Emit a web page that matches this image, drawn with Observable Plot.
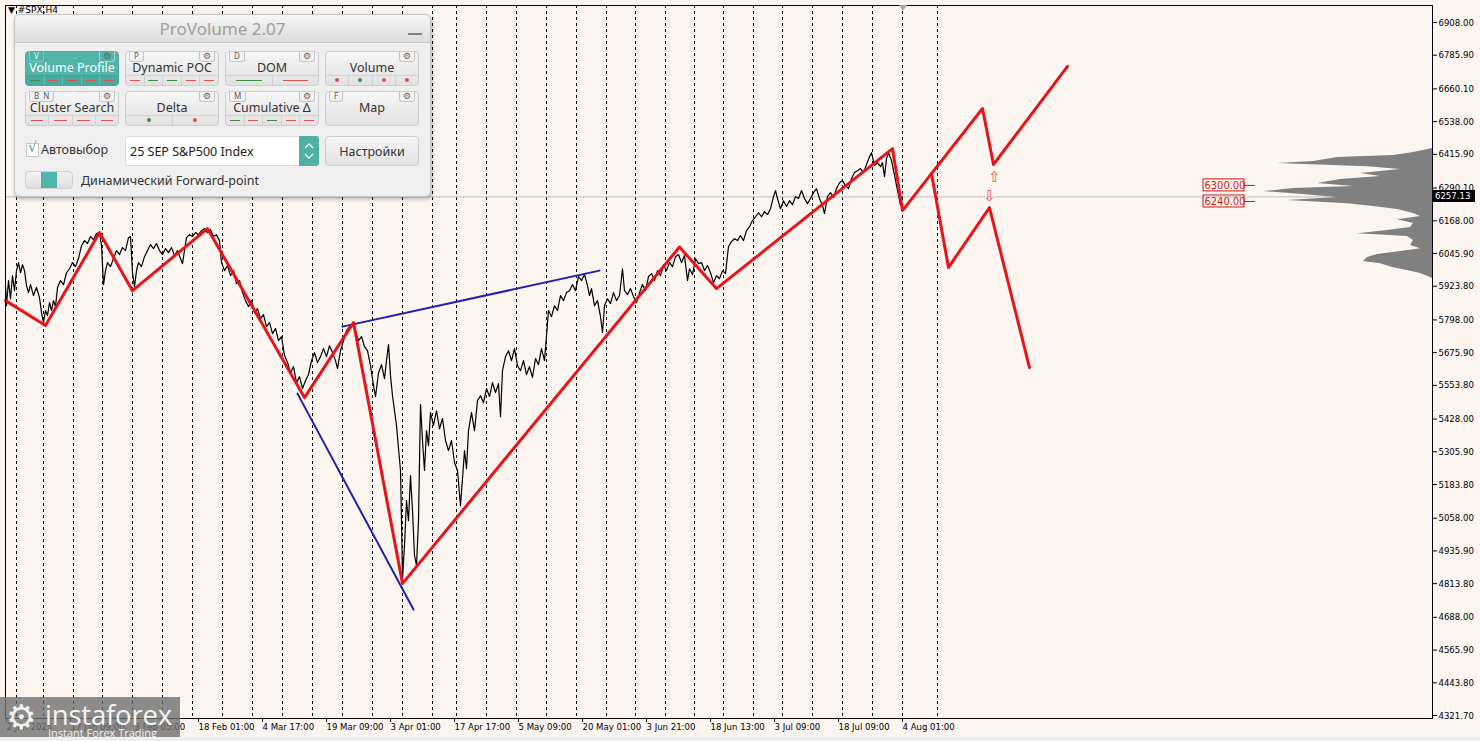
<!DOCTYPE html>
<html><head><meta charset="utf-8">
<script src="https://cdn.jsdelivr.net/npm/d3@7"></script>
<script src="https://cdn.jsdelivr.net/npm/@observablehq/plot@0.6"></script>
<style>
body{margin:0;background:#fdf5ef;}
#wrap{position:relative;width:1480px;height:741px;overflow:hidden;background:#fdf5ef;}
#wrap svg{position:absolute;left:0;top:0;}
.sym{position:absolute;left:8px;top:5px;font:9px "DejaVu Sans";color:#000;}
.pv{position:absolute;left:14px;top:14px;width:417px;height:183px;background:#efefef;border:1px solid #c4c4c4;border-radius:6px;box-shadow:1px 2px 4px rgba(0,0,0,0.3);font-family:"Noto Sans",sans-serif;overflow:hidden;box-sizing:border-box;}
.pv .hd{position:absolute;left:0;top:0;width:100%;height:27px;background:linear-gradient(#f7f7f7,#dcdcdc);border-bottom:1px solid #c6c6c6;text-align:center;font-size:17px;line-height:27px;color:#a0a0a0;}
.pv .min{position:absolute;right:8px;top:18px;width:14px;height:2px;background:#808080;}
.btn{position:absolute;width:94px;height:35px;border:1px solid #cdcdcd;border-radius:4px;background:linear-gradient(#f6f6f6,#e1e1e1);box-sizing:border-box;}
.btn .lb{position:absolute;left:0;right:0;top:7px;text-align:center;font-size:12.5px;color:#333;white-space:nowrap;}
.btn.on{background:#52b3a9;border-color:#4aa89e;}
.btn.on .lb{color:#fff;}
.strip{position:absolute;left:0;right:0;bottom:0;height:9px;border-top:1px solid #d2d2d2;display:flex;}
.btn.on .strip{border-top-color:#47a197;background:#4aa99f;}
.strip span{flex:1;border-left:1px solid #d0d0d0;position:relative;}
.btn.on .strip span{border-left-color:#63bdb3;}
.strip span:first-child{border-left:none;}
.strip i{position:absolute;left:22%;right:22%;top:4px;height:1px;}
.strip b{position:absolute;left:calc(50% - 2px);top:2px;width:4px;height:4px;border-radius:50%;}
.key{position:absolute;left:3px;top:-1px;font-size:8px;color:#555;border:1px solid #c6c6c6;border-top:none;border-radius:0 0 3px 3px;padding:0 4px;height:10px;line-height:10px;}
.btn.on .key{color:#e8f6f4;border-color:#79c7bf;}
.gear{position:absolute;right:3px;top:-1px;font-size:9px;color:#666;border:1px solid #c6c6c6;border-top:none;border-radius:0 0 3px 3px;padding:0 3px;height:10px;line-height:10px;font-family:"DejaVu Sans";}
.txt{position:absolute;font-size:12.5px;color:#333;white-space:nowrap;}
.chk{position:absolute;left:11px;top:128px;width:13px;height:14px;background:#fff;border:1px solid #c8c8c8;box-sizing:border-box;}
.chk span{position:absolute;left:1px;top:-5px;font-size:14px;color:#3aa89c;font-family:"DejaVu Sans";}
.dd{position:absolute;left:110px;top:121px;width:194px;height:30px;background:#fff;border:1px solid #dcdcdc;border-radius:3px;box-sizing:border-box;}
.dd .t{position:absolute;left:4px;top:6px;font-size:12.5px;color:#222;white-space:nowrap;}
.dd .sp{position:absolute;right:-1px;top:-1px;width:20px;height:30px;background:#4fb0a6;border-radius:0 3px 3px 0;}
.tog{position:absolute;left:10px;top:156px;width:48px;height:18px;background:linear-gradient(#f3f3f3,#dedede);border:1px solid #d0d0d0;border-radius:4px;box-sizing:border-box;}
.tog span{position:absolute;left:15px;top:0;width:16px;height:16px;background:#52b3a9;}
.logo{position:absolute;left:0;top:697px;width:180px;height:44px;background:rgba(112,112,112,0.8);}
.logo .g{position:absolute;left:6px;top:3px;font-size:34px;line-height:34px;color:#f2f2f2;font-family:"DejaVu Sans";}
.logo .n{position:absolute;left:45px;top:4px;font-size:27.5px;line-height:27px;color:#f4f4f4;font-family:"Open Sans";letter-spacing:-0.2px;}
.logo .s{position:absolute;left:48px;top:30px;font-size:11px;line-height:11px;color:#f0f0f0;font-family:"Open Sans";}
.cur{position:absolute;left:1433px;width:42px;height:12px;background:#000;color:#fff;font:9.5px "DejaVu Sans Condensed","DejaVu Sans";line-height:12px;text-align:left;padding-left:2px;box-sizing:border-box;}
.shift{position:absolute;left:899px;top:5px;width:0;height:0;border-left:4px solid transparent;border-right:4px solid transparent;border-top:6px solid #a8a8a8;}
.bot{position:absolute;left:0;top:737px;width:1480px;height:4px;background:#efefef;}
</style></head><body><div id="wrap"></div>
<script>
// ---- price data (H4 closes, bar index = 1 px per bar) ----
const barsJanFeb = [0,1,3,5,7,9,11,13,15,17,19,21,23,25,28,31,34,36,38,40,42,44,46,48,50,52,55,58,61,64,67,70,73,76,79,82,85,88,91,94,96,98,100,102,105,108,111,114,117,120,123,125,127,129,131,133,136,139,142,145,148,151,154,157,160,163,166,169,172,175,177,179,181,184,187,190,193,196,199,202,205,208,211,214,216,219,222,225,228,231,234,237,240,243,246];
const closeJanFeb = [5926,5851,5945,5877,5963,5907,5982,6012,5974,6004,5982,5926,5900,5930,5889,5919,5881,5825,5788,5833,5814,5863,5833,5870,5848,5919,5945,5930,5974,5989,6012,5997,6027,6075,6094,6083,6109,6098,6120,6124,6075,5930,5982,6012,5997,6027,6057,6042,6068,6057,6105,6109,5974,5922,5982,6012,5997,6034,6057,6079,6064,6083,6057,6042,6064,6049,6068,6038,6057,6027,6008,6057,6105,6116,6109,6124,6116,6131,6139,6124,6135,6109,6116,6094,6012,5982,6001,5963,5982,5933,5945,5900,5870,5848,5870];
const barsMarApr = [249,252,255,258,261,264,267,270,273,276,279,282,285,288,291,294,297,300,303,306,309,312,315,318,321,324,327,330,332,335,338,341,344,347,350,353,356,359,362,365,368,370,373,376,379,381,383,385,387,389,391,393,395,396,397,399,401,403,405,407,409,411,413,415,417,419,421,423,425,428,431,434,437,440,443,446,449,452,455,457,459,461,463,466,469,472,475];
const closeMarApr = [5825,5840,5803,5818,5773,5788,5747,5766,5721,5736,5665,5639,5601,5624,5564,5586,5542,5571,5594,5646,5676,5639,5661,5691,5661,5702,5676,5646,5616,5683,5721,5758,5773,5784,5758,5721,5736,5698,5683,5627,5553,5512,5601,5631,5579,5646,5706,5590,5515,5459,5404,5318,5236,5049,4832,4956,5124,5049,5217,5087,4919,4881,5049,5482,5348,5236,5385,5329,5452,5404,5459,5392,5430,5348,5310,5348,5266,5236,5105,5206,5310,5243,5385,5452,5385,5497,5515];
const barsAprJun = [478,481,484,487,490,493,495,497,500,503,506,509,512,515,518,521,524,527,530,533,536,539,541,543,546,549,552,555,558,561,564,567,570,573,576,579,582,584,586,589,592,595,597,599,602,605,608,611,614,617,619,622,625,628,631,634,637,640,643,646,649,652,655,658,661,664,667,670,673,676,679,682,684,687,690,693];
const closeAprJun = [5489,5542,5512,5564,5527,5560,5437,5609,5661,5683,5646,5691,5627,5609,5646,5594,5624,5583,5654,5631,5691,5646,5739,5833,5810,5851,5833,5889,5870,5900,5907,5930,5907,5960,5945,5967,5926,5889,5915,5851,5870,5810,5751,5851,5877,5859,5900,5870,5889,5989,5907,5892,5915,5885,5863,5900,5930,5907,5960,5971,5945,5982,5963,6004,5982,6012,5997,6034,6042,6012,6038,5945,5989,5967,6027,6008];
const barsJunAug = [696,699,702,705,708,711,714,717,720,723,726,729,732,735,738,741,744,747,750,753,756,759,762,765,768,770,772,775,778,781,784,787,790,793,796,799,802,805,808,811,814,817,819,822,825,828,831,834,837,840,843,846,849,852,855,858,861,864,866,869,872,875,877,879,881,883,886,889,892,895,897];
const closeJunAug = [6012,5982,6001,5974,5937,5963,5952,5982,5971,6072,6090,6101,6094,6113,6094,6131,6146,6169,6183,6198,6183,6202,6191,6213,6258,6281,6251,6213,6243,6221,6243,6228,6258,6251,6281,6251,6232,6251,6273,6288,6251,6225,6195,6258,6273,6255,6288,6310,6318,6299,6288,6325,6348,6355,6363,6348,6378,6407,6422,6374,6385,6370,6385,6333,6400,6422,6393,6337,6281,6225,6257];
const lastClose = 6257.13;

// ---- zigzag (red) & forecast branches ----
const zigBars   = [0,40,94,127,202,299,348,397,674,711,887,897,926,977,988,1062];
const zigPrices = [5870,5777,6124,5907,6139,5508,5788,4814,6070,5915,6437,6206,6344,6587,6378,6744];
const altBars   = [926,943,984,1024];
const altPrices = [6344,5994,6217,5620];
// ---- blue trend lines ----
const upperBars = [337,594], upperPrices = [5773,5982];
const lowerBars = [292,408], lowerPrices = [5523,4717];
// ---- level marks & arrows ----
const levels = [6300.00, 6240.00];
const arrowBars = [989,984], arrowPrices = [6330,6259], arrowGlyphs = ["⇧","⇩"];

// ---- volume profile (price level, relative volume) ----
const vpPrices = [6438,6423,6412,6404,6389,6382,6370,6359,6344,6333,6322,6307,6296,6288,6277,6270,6255,6244,6232,6221,6210,6195,6184,6172,6158,6143,6132,6120,6109,6094,6076,6064,6050,6042,6031,6016,6008,5993,5982,5971,5956,5952];
const vpVolume = [0,19,39,95,119,155,65,32,72,52,92,115,79,139,169,142,95,145,85,59,35,19,12,35,19,22,45,75,25,19,22,12,39,55,65,69,52,39,25,12,2,0];

// ---- axes ----
const weekStarts = [11,38,68,97,127,157,187,217,247,277,307,337,367,397,427,451,481,511,541,571,601,630,660,689,718,748,777,807,837,867,897,932];
const xTickBars = [0,64,128,192,256,320,384,448,512,576,640,704,768,832,896];
const xTickLabels = ["2 Jan 2025","17 Jan 09:00","3 Feb 05:00","18 Feb 01:00","4 Mar 17:00","19 Mar 09:00","3 Apr 01:00","17 Apr 17:00","5 May 09:00","20 May 01:00","3 Jun 21:00","18 Jun 13:00","3 Jul 09:00","18 Jul 09:00","4 Aug 01:00"];
const yTicks = [6908.00,6785.90,6660.10,6538.00,6415.90,6290.10,6168.00,6045.90,5923.80,5798.00,5675.90,5553.80,5428.00,5305.90,5183.80,5058.00,4935.90,4813.80,4688.00,4565.90,4443.80,4321.70];

const toRows = (b, p) => b.map((x, i) => ({bar: x, price: p[i]}));
const price = [
  ...toRows(barsJanFeb, closeJanFeb), ...toRows(barsMarApr, closeMarApr),
  ...toRows(barsAprJun, closeAprJun), ...toRows(barsJunAug, closeJunAug)
];
const zig = toRows(zigBars, zigPrices);
const alt = toRows(altBars, altPrices);
const trends = [...toRows(upperBars, upperPrices).map(d => ({...d, k: "u"})), ...toRows(lowerBars, lowerPrices).map(d => ({...d, k: "l"}))];
const arrows = arrowBars.map((b, i) => ({bar: b, price: arrowPrices[i], g: arrowGlyphs[i]}));
const profile = vpPrices.map((p, i) => ({price: p, vol: vpVolume[i]}));
const labelOf = new Map(xTickBars.map((b, i) => [b, xTickLabels[i]]));

const X_END = 1427;          // last bar slot at the price scale
const BOX_L = 1198, BOX_R = 1239, BOX_H = 22.4;
const RED = "#e8141a", BLUE = "#2121ad";

const chart = Plot.plot({
  width: 1480, height: 741,
  marginLeft: 5, marginRight: 48, marginTop: 5, marginBottom: 23,
  x: {type: "linear", domain: [0, X_END], axis: null},
  y: {type: "linear", domain: [4310.5, 6971.4], axis: null},
  style: {background: "#fdf5ef", fontFamily: "'DejaVu Sans Condensed','DejaVu Sans'", fontSize: "9.5px", color: "#000", overflow: "visible"},
  marks: [
    Plot.ruleX(weekStarts, {stroke: "#000", strokeWidth: 1, strokeDasharray: "3,3"}),
    Plot.ruleY([lastClose], {stroke: "#bdbdbd", strokeWidth: 1}),
    Plot.areaX(profile, {y: "price", x1: X_END, x2: d => X_END - d.vol, fill: "#808080"}),
    Plot.line(price, {x: "bar", y: "price", stroke: "#000", strokeWidth: 1.2}),
    Plot.line(trends, {x: "bar", y: "price", z: "k", stroke: BLUE, strokeWidth: 2}),
    Plot.line(zig, {x: "bar", y: "price", stroke: RED, strokeWidth: 3}),
    Plot.line(alt, {x: "bar", y: "price", stroke: RED, strokeWidth: 3}),
    Plot.text(arrows, {x: "bar", y: "price", text: "g", fill: "#e25a5a", fontSize: 15, fontFamily: "DejaVu Sans"}),
    Plot.rect(levels, {x1: BOX_L, x2: BOX_R, y1: d => d - BOX_H, y2: d => d + BOX_H, fill: "none", stroke: "#d01818", strokeWidth: 1}),
    Plot.ruleY(levels, {x1: BOX_R, x2: BOX_R + 11, stroke: "#d01818", strokeWidth: 1}),
    Plot.text(levels, {x: BOX_L + 1, y: d => d, text: d => d.toFixed(2), textAnchor: "start", fill: "#d01818", fontSize: 11, fontFamily: "'DejaVu Sans Condensed','DejaVu Sans'"}),
    Plot.frame({stroke: "#000", strokeWidth: 1}),
    Plot.axisY({anchor: "right", ticks: yTicks, tickFormat: d => d.toFixed(2), tickSize: 4, tickPadding: 2, label: null}),
    Plot.axisX({anchor: "bottom", ticks: xTickBars, tickFormat: d => labelOf.get(d), tickSize: 4, tickPadding: 1, textAnchor: "start", dx: 1, label: null})
  ]
});

const wrap = document.getElementById("wrap");
wrap.appendChild(chart);

const yS = chart.scale("y");
const cur = document.createElement("div");
cur.className = "cur";
cur.style.top = (yS.apply(lastClose) - 6) + "px";
cur.textContent = lastClose.toFixed(2);
wrap.appendChild(cur);

const strip = (items) => `<div class="strip">${items.map(it => {
  if (!it) return "<span></span>";
  const [t, c] = it;
  return t === "d" ? `<span><i style="background:${c}"></i></span>` : `<span><b style="background:${c}"></b></span>`;
}).join("")}</div>`;
const R = "#d9534f", G = "#3d8f4a";
const btn = (l, t, label, key, gear, st, on) =>
  `<div class="btn${on ? " on" : ""}" style="left:${l}px;top:${t}px">${key ? `<div class="key">${key}</div>` : ""}${gear ? `<div class="gear">⚙</div>` : ""}<div class="lb">${label}</div>${st ? strip(st) : ""}</div>`;

const html = `
<div class="sym">▼ #SPX,H4</div>
<div class="shift"></div>
<div class="pv">
  <div class="hd">ProVolume 2.07</div><div class="min"></div>
  ${btn(10, 36, "Volume Profile", "V", true, [["d", G], ["d", R], ["d", R], ["d", R], ["d", R]], true)}
  ${btn(110, 36, "Dynamic POC", "P", true, [["d", R], ["d", G], ["d", G], ["d", R], ["d", R]])}
  ${btn(210, 36, "DOM", "D", true, [["d", G], ["d", R]])}
  ${btn(310, 36, "Volume", "", true, [["b", R], ["b", G], ["b", R], ["b", R]])}
  ${btn(10, 76, "Cluster Search", "B&nbsp;&nbsp;N", true, [["d", R], ["d", R], ["d", R], ["d", R]])}
  ${btn(110, 76, "Delta", "", true, [["b", G], ["b", R]])}
  ${btn(210, 76, "Cumulative Δ", "M", true, [["d", G], ["d", R], ["d", G], ["d", R], ["d", R]])}
  ${btn(310, 76, "Map", "F", true, null)}
  <div class="chk"><span>√</span></div>
  <div class="txt" style="left:26px;top:126px">Автовыбор</div>
  <div class="dd"><div class="t">25 SEP S&amp;P500 Index</div><div class="sp">
    <svg width="20" height="30"><path d="M6 12 L10 8 L14 12 M6 18 L10 22 L14 18" fill="none" stroke="#fff" stroke-width="1.3"/></svg></div></div>
  <div class="btn" style="left:310px;top:121px;height:30px"><div class="lb" style="top:6px">Настройки</div></div>
  <div class="tog"><span></span></div>
  <div class="txt" style="left:66px;top:157px">Динамический Forward-point</div>
</div>
<div class="logo"><div class="g">⚙</div><div class="n">instaforex</div><div class="s">Instant Forex Trading</div></div>
<div class="bot"></div>`;
wrap.insertAdjacentHTML("beforeend", html);
</script>
</body></html>
